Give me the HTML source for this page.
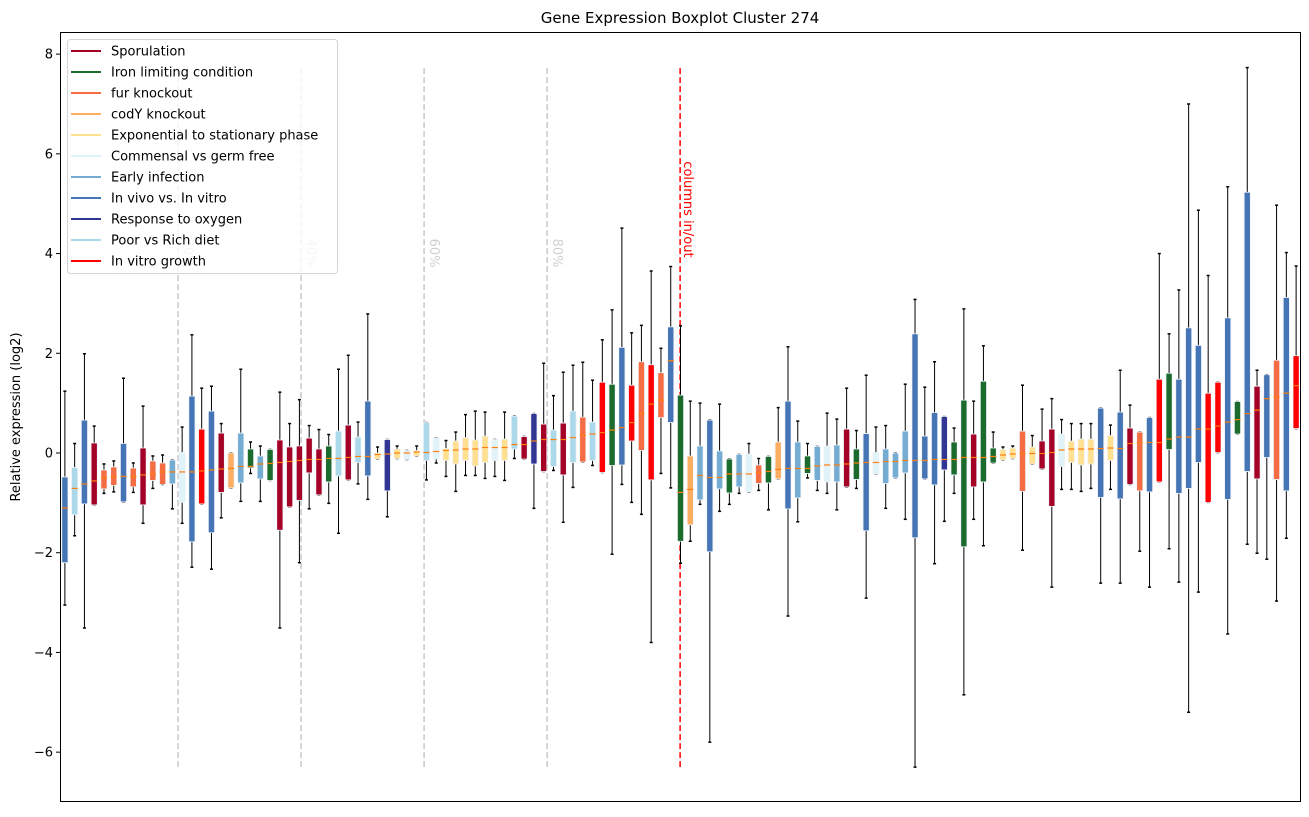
<!DOCTYPE html>
<html><head><meta charset="utf-8"><style>
body{margin:0;background:#fff}
svg text{font-family:"DejaVu Sans","Liberation Sans",sans-serif}
</style></head><body>
<svg id="chart" width="1309" height="812" xmlns="http://www.w3.org/2000/svg">
<rect x="0" y="0" width="1309" height="812" fill="#fff"/>
<text x="680" y="23" font-size="15" text-anchor="middle">Gene Expression Boxplot Cluster 274</text>
<text x="20" y="417" font-size="13" text-anchor="middle" transform="rotate(-90 20 417)">Relative expression (log2)</text>
<g id="yaxis"></g>
<g id="guides"></g>
<g id="boxes"></g>
<rect x="60.5" y="32.5" width="1240" height="769" fill="none" stroke="#000" stroke-width="1"/>
<g id="legend"></g>
</svg>
<script>
const lows=[-3.05,-1.66,-3.51,-1.04,-0.81,-0.78,-0.98,-0.79,-1.41,-0.71,-0.63,-1.12,-1.41,-2.29,-1.02,-2.33,-1.30,-0.70,-0.97,-0.41,-0.97,-0.55,-3.51,-1.08,-2.2,-1.12,-0.84,-1.01,-1.61,-0.54,-0.62,-0.93,-0.12,
-1.28,-0.11,-0.13,-0.06,-0.54,-0.20,-0.47,-0.77,-0.45,-0.45,-0.51,-0.47,-0.55,-0.11,-0.12,-1.11,-0.37,-0.35,-1.39,-0.69,-0.18,-0.25,-0.39,-2.03,-0.63,-0.99,-1.23,-3.8,-0.41,-0.70,-2.21,
-1.77,-1.03,-5.8,-1.17,-1.03,-0.81,-0.78,-0.75,-1.14,-0.52,-3.27,-1.38,-0.50,-0.75,-0.81,-1.14,-0.68,-0.71,-2.91,-0.42,-1.11,-0.50,-1.33,-6.3,-0.52,-2.22,-1.37,-0.81,-4.85,-1.33,-1.86,-0.2,
-0.14,-0.11,-1.95,-0.22,-0.32,-2.69,-0.73,-0.73,-0.77,-0.71,-2.61,-0.73,-2.61,-0.63,-1.97,-2.69,-0.58,-1.92,-2.59,-5.2,-2.79,-0.99,0.01,-3.63,0.38,-1.83,-2.01,-2.13,-2.97,-1.71,0.49];
const q1s=[-2.2,-1.24,-1.02,-1.04,-0.72,-0.65,-0.98,-0.68,-1.04,-0.55,-0.63,-0.62,-0.99,-1.78,-1.02,-1.60,-0.79,-0.70,-0.60,-0.30,-0.52,-0.55,-1.55,-1.08,-0.95,-0.40,-0.84,-0.58,-0.46,-0.54,-0.19,-0.46,-0.12,
-0.76,-0.11,-0.13,-0.06,-0.15,-0.12,-0.15,-0.22,-0.15,-0.26,-0.19,-0.15,-0.15,0.08,-0.12,-0.22,-0.37,-0.27,-0.44,-0.19,-0.18,-0.15,-0.39,-0.25,-0.24,0.24,0.05,-0.54,0.71,0.61,-1.77,
-1.44,-0.94,-1.98,-0.72,-0.80,-0.68,-0.78,-0.61,-0.60,-0.52,-1.12,-0.90,-0.41,-0.55,-0.58,-0.58,-0.68,-0.53,-1.56,-0.42,-0.61,-0.50,-0.40,-1.70,-0.52,-0.64,-0.34,-0.44,-1.88,-0.68,-0.58,-0.2,
-0.14,-0.11,-0.77,-0.22,-0.32,-1.07,-0.27,-0.19,-0.24,-0.22,-0.89,-0.15,-0.92,-0.63,-0.76,-0.78,-0.58,0.07,-0.81,-0.71,-0.19,-0.99,0.01,-0.93,0.38,-0.37,-0.52,-0.09,-0.53,-0.76,0.49];
const meds=[-1.10,-0.71,-0.62,-0.56,-0.50,-0.48,-0.47,-0.47,-0.44,-0.42,-0.38,-0.38,-0.38,-0.38,-0.36,-0.34,-0.32,-0.31,-0.27,-0.27,-0.22,-0.21,-0.19,-0.17,-0.15,-0.13,-0.13,-0.11,-0.11,-0.09,-0.07,-0.07,-0.03,
-0.02,0.0,0.0,0.02,0.01,0.03,0.05,0.06,0.08,0.08,0.11,0.11,0.11,0.17,0.17,0.24,0.27,0.27,0.27,0.31,0.36,0.38,0.41,0.46,0.51,0.61,0.79,0.98,1.06,1.85,-0.79,
-0.73,-0.45,-0.49,-0.49,-0.42,-0.42,-0.42,-0.39,-0.37,-0.33,-0.31,-0.31,-0.31,-0.26,-0.24,-0.24,-0.22,-0.20,-0.19,-0.19,-0.17,-0.17,-0.15,-0.15,-0.15,-0.13,-0.13,-0.13,-0.09,-0.09,-0.09,-0.07,
-0.04,-0.02,-0.01,-0.01,-0.01,0.01,0.06,0.08,0.08,0.08,0.09,0.10,0.09,0.19,0.21,0.21,0.21,0.28,0.32,0.32,0.48,0.48,0.54,0.62,0.67,0.79,0.86,1.09,1.12,1.20,1.35];
const q3s=[-0.48,-0.29,0.66,0.20,-0.34,-0.28,0.19,-0.30,0.10,-0.16,-0.20,-0.14,0.01,1.14,0.48,0.84,0.40,0.0,0.40,0.08,-0.06,0.07,0.26,0.12,0.14,0.30,0.08,0.14,0.44,0.56,0.32,1.04,0.0,
0.27,0.08,0.05,0.05,0.61,0.30,0.09,0.24,0.31,0.26,0.34,0.27,0.28,0.74,0.33,0.79,0.58,0.46,0.60,0.84,0.72,0.62,1.42,1.38,2.12,1.36,1.83,1.77,1.61,2.53,1.16,
-0.06,0.14,0.66,0.04,-0.12,-0.03,-0.02,-0.24,-0.07,0.22,1.04,0.22,-0.06,0.13,0.14,0.16,0.48,0.08,0.39,0.01,0.08,0.0,0.44,2.39,0.34,0.81,0.73,0.22,1.06,0.38,1.44,0.10,
0.07,0.10,0.44,0.12,0.24,0.48,0.38,0.24,0.28,0.28,0.90,0.35,0.82,0.50,0.42,0.71,1.48,1.60,1.48,2.51,2.16,1.20,1.42,2.71,1.03,5.23,1.34,1.57,1.86,3.12,1.95];
const highs=[1.24,0.19,1.99,0.54,-0.22,-0.16,1.50,-0.20,0.94,-0.06,-0.04,-0.14,0.52,2.37,1.30,1.34,0.59,0.0,1.68,0.22,0.14,0.07,1.22,0.59,1.07,0.55,0.47,0.37,1.68,1.96,0.62,2.79,0.12,
0.27,0.14,0.05,0.14,0.61,0.30,0.25,0.42,0.77,0.84,0.82,0.27,0.82,0.74,0.33,0.79,1.80,1.15,1.62,1.76,1.82,1.46,2.27,2.87,4.51,2.41,2.56,3.65,2.10,3.74,2.55,
1.04,1.0,0.66,0.98,-0.12,-0.03,0.19,-0.11,-0.07,0.91,2.13,0.64,0.19,0.13,0.80,0.68,1.30,0.45,1.56,0.52,0.55,0.0,1.38,3.08,1.32,1.83,0.73,0.50,2.89,1.04,2.15,0.42,
0.12,0.14,1.36,0.35,0.88,1.09,0.67,0.59,0.59,0.59,0.90,0.56,1.66,0.96,0.42,0.71,4.0,2.39,3.27,7.0,4.87,3.56,1.42,5.34,1.03,7.73,1.66,1.57,4.97,4.02,3.75];
const groups="BPBSFFBFSFFLMBRBSCLGLGSSSSSGPSPBE"+"NEMEPMEEEEEMEPSNSPSPFPRGBRFRFBG"+"CLBLGLMFGCBLGLMLSGBMLLLBBBNGGSGG"+"EEFESSMEEEBEBSFBRGBBBRRBGBSBFBR";
const legendLabels=["Sporulation","Iron limiting condition","fur knockout","codY knockout","Exponential to stationary phase","Commensal vs germ free","Early infection","In vivo vs. In vitro","Response to oxygen","Poor vs Rich diet","In vitro growth"];
const legendCodes=["S","G","F","C","E","M","L","B","N","P","R"];
const yTicks=[-6,-4,-2,0,2,4,6,8];
const guidePos=[12.58,25.17,37.76,50.35];
const guideLabels=["20%","40%","60%","80%"];
const splitPos=63.96;
const palette={S:"#a50026",G:"#1a6b2c",F:"#f46d43",C:"#fdae61",E:"#fee090",M:"#e0f3f8",L:"#74add1",B:"#4575b4",N:"#313695",P:"#abd9e9",R:"#ff0000"};
const NS="http://www.w3.org/2000/svg";
const X0=60,X1=1301,N=lows.length;
function xs(p){return X0+(p-0.5)*(X1-X0)/N;}
function ys(v){return 453-v*49.86;}
function mk(tag,attrs,parent){const e=document.createElementNS(NS,tag);for(const k in attrs)e.setAttribute(k,attrs[k]);parent.appendChild(e);return e;}
const ya=document.getElementById('yaxis');
yTicks.forEach(t=>{const y=ys(t);
 const l=mk('line',{x1:56,x2:60,y1:y,y2:y,stroke:'#000'},ya);
 
 
 const tx=mk('text',{x:53,y:y+4.5,'font-size':13,'text-anchor':'end'},ya);
 
 
 tx.textContent=(t<0?'\u2212'+(-t):t);});
const gd=document.getElementById('guides');
guidePos.forEach((p,i)=>{const x=xs(p);
 const l=mk('line',{x1:x,x2:x,y1:ys(-6.3),y2:ys(7.75),stroke:'#c8c8c8','stroke-width':1.5,'stroke-dasharray':'6,3'},gd);
 
 
 const t=mk('text',{x:x+6,y:ys(4.3),'font-size':13,fill:'#d0d0d0',transform:`rotate(90 ${x+6} ${ys(4.3)})`},gd);
 
 
 t.textContent=guideLabels[i];});
{const x=xs(splitPos);
 const l=mk('line',{x1:x,x2:x,y1:ys(-6.3),y2:ys(7.75),stroke:'#ff0000','stroke-width':1.5,'stroke-dasharray':'6,3'},gd);
 
 
 const t=mk('text',{x:x+4,y:ys(5.85),'font-size':13,fill:'#ff0000',transform:`rotate(90 ${x+4} ${ys(5.85)})`},gd);
 
 
 t.textContent='columns in/out';}
const bx=document.getElementById('boxes');
for(let i=0;i<N;i++){const x=xs(i+1),w=6.2,c=palette[groups[i]];
 const g=mk('g',{},bx);
 
 
 mk('line',{x1:x,x2:x,y1:ys(highs[i]),y2:ys(q3s[i]),stroke:'#000'},g);
 mk('line',{x1:x,x2:x,y1:ys(q1s[i]),y2:ys(lows[i]),stroke:'#000'},g);
 mk('line',{x1:x-1.5,x2:x+1.5,y1:ys(highs[i]),y2:ys(highs[i]),stroke:'#000','stroke-width':1.5},g);
 mk('line',{x1:x-1.5,x2:x+1.5,y1:ys(lows[i]),y2:ys(lows[i]),stroke:'#000','stroke-width':1.5},g);
 const top=ys(q3s[i]),bot=ys(q1s[i]);
 mk('rect',{x:x-w/2,y:top,width:w,height:Math.max(bot-top,1),fill:c,stroke:'#eef2fa','stroke-width':0.8,rx:1},g);
 mk('line',{x1:x-w/2,x2:x+w/2,y1:ys(meds[i]),y2:ys(meds[i]),stroke:'#ff7f0e','stroke-width':1.2},g);
}
const lg=document.getElementById('legend');
const lr=mk('rect',{x:67.5,y:39.5,width:270,height:234,rx:3,fill:'#fff','fill-opacity':0.8,stroke:'#d5d5d5'},lg);


legendLabels.forEach((lab,i)=>{const y=51+i*21;
 const g=mk('g',{},lg);
 
 
 mk('line',{x1:71,x2:101,y1:y,y2:y,stroke:palette[legendCodes[i]],'stroke-width':2},g);
 const t=mk('text',{x:111,y:y+4.5,'font-size':13},g);
 t.textContent=lab;});
</script>
</body></html>
